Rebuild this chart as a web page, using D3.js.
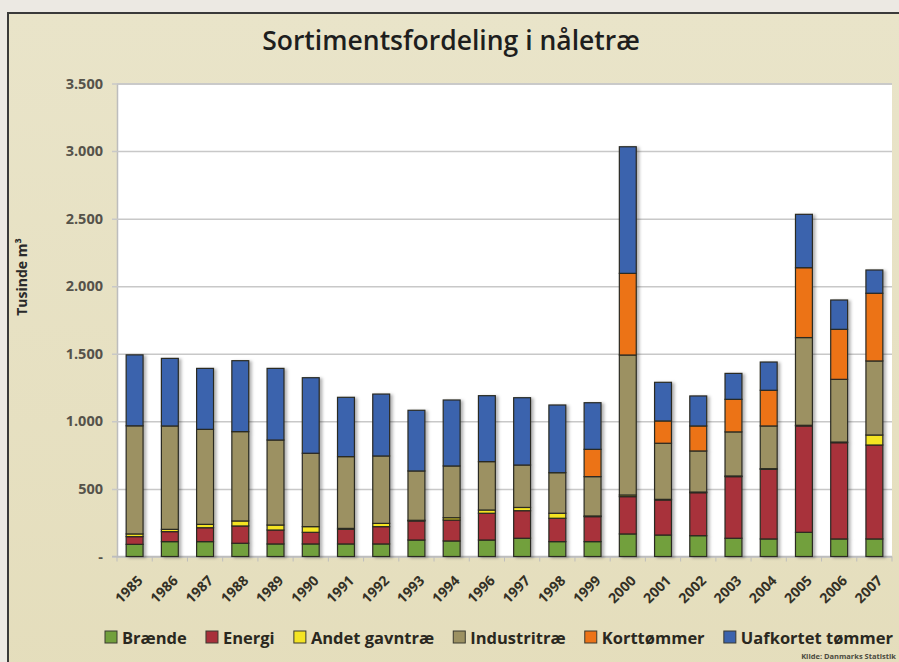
<!DOCTYPE html>
<html><head><meta charset="utf-8">
<script src="https://cdn.jsdelivr.net/npm/d3@7"></script>
<style>
html,body{margin:0;padding:0;background:#ece9e3;}
svg{display:block;}
text{font-family:"Open Sans","DejaVu Sans",sans-serif;}
</style></head>
<body>
<svg id="chart" width="899" height="662"></svg>
<script>
const years = ["1985","1986","1987","1988","1989","1990","1991","1992","1993","1994","1996","1997","1998","1999","2000","2001","2002","2003","2004","2005","2006","2007"];
const braende   = [90,110,110,98,93,93,93,93,122,115,122,135,110,110,167,159,154,135,130,179,130,130];
const energi    = [57,74,103,128,103,86,108,128,141,155,198,204,173,185,276,259,318,456,515,787,712,695];
const andet     = [20,17,25,37,37,42,7,24,5,17,24,24,37,5,12,5,5,5,5,5,5,74];
const industri  = [800,765,703,661,629,543,531,499,365,383,358,314,300,291,1036,415,304,326,316,649,464,548];
const kort      = [0,0,0,0,0,0,0,0,0,0,0,0,0,202,604,165,185,241,264,517,370,501];
const uafkortet = [525,500,451,525,530,559,439,458,449,488,488,498,501,345,937,286,222,192,209,395,217,172];
const seriesNames = ["Brænde","Energi","Andet gavntræ","Industritræ","Korttømmer","Uafkortet tømmer"];
const seriesColors = ["#72a03c","#a8303a","#f4e424","#9c9162","#ec7318","#3b63ad"];
const yTicks = [0,500,1000,1500,2000,2500,3000,3500];
const yTickLabels = ["-","500","1.000","1.500","2.000","2.500","3.000","3.500"];
const title = "Sortimentsfordeling i nåletræ";
const yTitle = "Tusinde m³";
const source = "Kilde: Danmarks Statistik";

const allSeries = [braende, energi, andet, industri, kort, uafkortet];
const keys = seriesNames;
const table = years.map((y,i)=>{ const o={year:y}; keys.forEach((k,j)=>o[k]=allSeries[j][i]); return o; });

const svg = d3.select("#chart");
const W=899,H=662;
const m = {left:117, right:7, top:83.5, bottom:105.5};

// frame
const defs = svg.append("defs");
const g1 = defs.append("linearGradient").attr("id","bg").attr("x1",0).attr("y1",0).attr("x2",0).attr("y2",1);
g1.append("stop").attr("offset","0%").attr("stop-color","#e9e4c9");
g1.append("stop").attr("offset","100%").attr("stop-color","#e4ddbb");
const f = defs.append("filter").attr("id","sh").attr("x","-30%").attr("y","-10%").attr("width","160%").attr("height","120%");
f.append("feDropShadow").attr("dx",2.5).attr("dy",1).attr("stdDeviation",1.5).attr("flood-color","#000").attr("flood-opacity",0.3);

svg.append("rect").attr("x",8).attr("y",13).attr("width",960).attr("height",720)
  .attr("fill","url(#bg)").attr("stroke","#3a3a3a").attr("stroke-width",2);

const x = d3.scaleBand().domain(years).range([m.left, W-m.right]).paddingInner(0.52).paddingOuter(0.26);
const y = d3.scaleLinear().domain([0,3500]).range([H-m.bottom, m.top]);

// plot area
svg.append("rect").attr("x",m.left).attr("y",m.top).attr("width",W-m.right-m.left).attr("height",H-m.bottom-m.top).attr("fill","#ffffff");

// gridlines + y axis
const yAxis = d3.axisLeft(y).tickValues(yTicks).tickFormat((d,i)=>yTickLabels[i]).tickSize(-(W-m.right-m.left)).tickPadding(14);
const ga = svg.append("g").attr("transform",`translate(${m.left},0)`).call(yAxis);
ga.select(".domain").attr("stroke","#bdbdbd").attr("stroke-width",1.5);
ga.selectAll(".tick line").attr("stroke","#c8c8c8").attr("stroke-width",1.5).attr("x1",-5);
ga.selectAll(".tick text").attr("fill","#55524a").attr("font-size",14.5).attr("font-weight","bold");

// bottom axis ticks at band boundaries
const xb = svg.append("g");
const segW = (W-m.right-m.left)/years.length;
xb.append("line").attr("x1",m.left-5).attr("x2",W-m.right).attr("y1",y(0)).attr("y2",y(0)).attr("stroke","#bdbdbd").attr("stroke-width",1.5);
xb.selectAll("line.tk").data(d3.range(years.length+1)).join("line").attr("class","tk")
  .attr("x1",i=>m.left+i*segW).attr("x2",i=>m.left+i*segW)
  .attr("y1",y(0)).attr("y2",y(0)+5).attr("stroke","#bdbdbd").attr("stroke-width",1);

// stacked bars
const stack = d3.stack().keys(keys)(table);
svg.append("g").attr("filter","url(#sh)").selectAll("g").data(stack).join("g")
  .attr("fill",(d,i)=>seriesColors[i])
  .selectAll("rect").data(d=>d.filter(v=>v[1]-v[0]>0)).join("rect")
  .attr("x",d=>x(d.data.year)).attr("width",x.bandwidth())
  .attr("y",d=>y(d[1])).attr("height",d=>y(d[0])-y(d[1]))
  .attr("stroke","#2a2a22").attr("stroke-width",1.2);

// x labels
svg.append("g").selectAll("text").data(years).join("text")
  .attr("transform",d=>`translate(${x(d)+x.bandwidth()/2+9},${y(0)+25}) rotate(-45)`)
  .attr("text-anchor","end").attr("font-size",14).attr("font-weight","bold").attr("fill","#333025").text(d=>d);

// title
svg.append("text").attr("x",451).attr("y",50).attr("text-anchor","middle")
  .attr("font-size",26.5).attr("font-weight","600").attr("fill","#1e1e1e").text(title);

// y title
svg.append("text").attr("transform",`translate(27,${277}) rotate(-90)`).attr("text-anchor","middle")
  .attr("font-size",14).attr("font-weight","bold").attr("fill","#2a2a2a").text(yTitle);

// legend
const lg = svg.append("g");
const lx0 = 105, lx1 = 893;
const items = seriesNames.map((n,i)=>{
  const it = lg.append("g");
  it.append("rect").attr("x",0).attr("y",631).attr("width",12).attr("height",12).attr("fill",seriesColors[i]).attr("stroke","#3a3a30").attr("stroke-width",1);
  const t = it.append("text").attr("x",17).attr("y",643.5).attr("font-size",16.5).attr("font-weight","bold").attr("fill","#2a2820").text(n);
  return {it, w: 17 + t.node().getComputedTextLength()};
});
const totalW = d3.sum(items, d=>d.w);
const gap = (lx1-lx0-totalW)/(items.length-1);
let lx = lx0;
items.forEach(d=>{ d.it.attr("transform",`translate(${lx},0)`); lx += d.w + gap; });

// source
svg.append("text").attr("x",896).attr("y",659).attr("text-anchor","end").attr("font-size",7.5).attr("font-weight","bold").attr("fill","#4a4a40").text(source);
</script>
</body></html>
